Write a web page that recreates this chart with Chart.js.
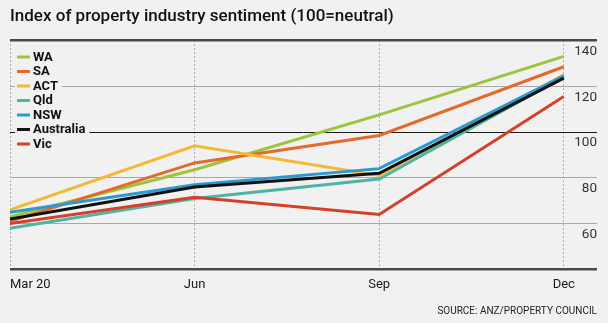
<!DOCTYPE html>
<html>
<head>
<meta charset="utf-8">
<script src="https://cdn.jsdelivr.net/npm/chart.js@4/dist/chart.umd.min.js"></script>
<style>
  html, body { margin: 0; padding: 0; background: #f1f1f1; }
  #wrap { width: 608px; height: 323px; position: relative; }
</style>
</head>
<body>
<div id="wrap"><canvas id="chart"></canvas></div>
<script>
// Quarterly survey points
const QUARTERS = ['Mar 20', 'Jun', 'Sep', 'Dec'];

// Index values per state (100 = neutral)
const WA = [63, 83.5, 107.5, 133];
const SA = [61, 86.5, 98.5, 128.5];
const ACT = [66, 94, 81, 125];
const QLD = [58, 71, 79.5, 124];
const NSW = [65, 77, 84, 124.5];
const AUSTRALIA = [62, 76, 82, 123.5];
const VIC = [60, 71.5, 64, 115.5];

const Y_TICKS = [60, 80, 100, 120, 140];

const FONT = "Roboto, 'DejaVu Sans Condensed', sans-serif";
const BG = '#f1f1f1';

function series(label, values, color, order) {
  return {
    label: label,
    data: values.map((v, i) => ({ x: i, y: v })),
    borderColor: color,
    borderWidth: 3,
    pointRadius: 0,
    tension: 0,
    fill: false,
    order: order
  };
}

/**
 * Paint the page background on the canvas
 */
const background = {
  id: 'background',
  beforeDraw(chart) {
    const ctx = chart.ctx;
    ctx.save();
    ctx.fillStyle = BG;
    ctx.fillRect(0, 0, chart.width, chart.height);
    ctx.restore();
  }
};

/**
 * Stacked key in the top-left corner, each row masks the gridlines behind it
 */
const insetLegend = {
  id: 'insetLegend',
  afterDraw(chart) {
    const ctx = chart.ctx;
    const left = chart.chartArea.left + 7;
    let y = 57;
    ctx.save();
    ctx.font = "bold 13px " + FONT;
    ctx.textBaseline = 'middle';
    for (const ds of chart.data.datasets) {
      const textW = ctx.measureText(ds.label).width;
      ctx.fillStyle = BG;
      ctx.fillRect(left - 2, y - 7, 13 + 3 + textW + 6, 14);
      ctx.strokeStyle = ds.borderColor;
      ctx.lineWidth = 3;
      ctx.beginPath();
      ctx.moveTo(left, y);
      ctx.lineTo(left + 13, y);
      ctx.stroke();
      ctx.fillStyle = '#111';
      ctx.fillText(ds.label, left + 16, y + 0.5);
      y += 14.5;
    }
    ctx.restore();
  }
};

const ctx = document.getElementById('chart').getContext('2d');

new Chart(ctx, {
  type: 'line',
  data: {
    datasets: [
      series('WA', WA, '#9dc43a', 6),
      series('SA', SA, '#e36a2c', 5),
      series('ACT', ACT, '#f2b935', 4),
      series('Qld', QLD, '#4fb3a5', 3),
      series('NSW', NSW, '#2a9ad0', 1),
      series('Australia', AUSTRALIA, '#111111', 0),
      series('Vic', VIC, '#d4402a', 2)
    ]
  },
  options: {
    responsive: true,
    maintainAspectRatio: false,
    animation: false,
    layout: { padding: { left: 10, right: 11, top: 0, bottom: 0 } },
    plugins: {
      legend: { display: false },
      tooltip: { enabled: false },
      title: {
        display: true,
        text: 'Index of property industry sentiment (100=neutral)',
        align: 'start',
        color: '#111',
        font: { family: FONT, size: 17, weight: '500', lineHeight: 1.2 },
        padding: { top: 7, bottom: 13 }
      },
      subtitle: {
        display: true,
        position: 'bottom',
        text: 'SOURCE: ANZ/PROPERTY COUNCIL',
        align: 'end',
        color: '#222',
        font: { family: FONT, size: 10, lineHeight: 1.2 },
        padding: { top: 4, bottom: 6 }
      }
    },
    scales: {
      x: {
        type: 'linear',
        min: 0,
        max: 3.18,
        afterBuildTicks: (axis) => {
          // one tick per quarter plus an unlabeled one at the right edge
          axis.ticks = QUARTERS.map((q, i) => ({ value: i })).concat([{ value: 3.18 }]);
        },
        grid: {
          drawTicks: false,
          color: (c) => (c.tick && c.tick.value > 3 ? 'rgba(0,0,0,0)' : '#9a9a9a'),
          lineWidth: 1
        },
        border: { display: false, dash: [1.5, 2.5] },
        ticks: {
          autoSkip: false,
          maxRotation: 0,
          align: 'inner',
          padding: 8,
          color: '#1a1a1a',
          font: { family: FONT, size: 13 },
          callback: (v) => (QUARTERS[v] !== undefined ? QUARTERS[v] : '')
        }
      },
      y: {
        position: 'right',
        min: 40,
        max: 140,
        afterBuildTicks: (axis) => {
          axis.ticks = [40].concat(Y_TICKS).map((v) => ({ value: v }));
        },
        grid: {
          drawTicks: false,
          color: (c) => {
            const v = c.tick && c.tick.value;
            if (v === 100) return '#1a1a1a';
            if (v === 140 || v === 40) return '#4a4a4a';
            return '#a8a8a8';
          },
          lineWidth: (c) => {
            const v = c.tick && c.tick.value;
            return v === 140 || v === 40 ? 2.5 : 1;
          }
        },
        border: { display: false },
        ticks: {
          mirror: true,
          padding: 0,
          labelOffset: 11,
          color: '#333',
          font: { family: FONT, size: 13.5 },
          callback: (v) => (Y_TICKS.includes(v) ? String(v) : '')
        }
      }
    }
  },
  plugins: [background, insetLegend]
});
</script>
</body>
</html>
